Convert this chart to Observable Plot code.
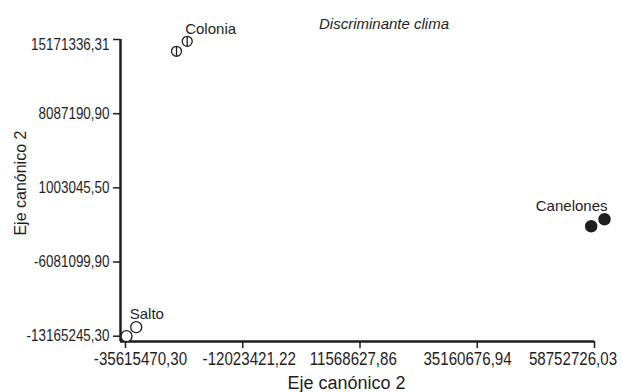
<!DOCTYPE html>
<html><head><meta charset="utf-8">
<script src="https://cdn.jsdelivr.net/npm/d3@7"></script>
<script src="https://cdn.jsdelivr.net/npm/@observablehq/plot@0.6"></script>
<style>body{margin:0;background:#fff} svg{display:block}</style>
</head><body><div id="chart"></div>
<script>
const title = "Discriminante clima";
const xTitle = "Eje canónico 2";
const yTitle = "Eje canónico 2";
const xTicks = [-35615470.30, -12023421.22, 11568627.86, 35160676.94, 58752726.03];
const xTickLabels = ["-35615470,30", "-12023421,22", "11568627,86", "35160676,94", "58752726,03"];
const yTicks = [-13165245.30, -6081099.90, 1003045.50, 8087190.90, 15171336.31];
const yTickLabels = ["-13165245,30", "-6081099,90", "1003045,50", "8087190,90", "15171336,31"];
const groups = ["Colonia", "Colonia", "Salto", "Salto", "Canelones", "Canelones"];
const xValues = [-25353683, -23200720, -35414259, -33462507, 58088725, 60764839];
const yValues = [14044743, 14999483, -13165245, -12306081, -2663207, -1994889];
const xDomain = [-36621526, 58752726.03];
const yDomain = [-13671257, 15171336.31];

// layout tweaks of the tick labels (pixels), as in the reference
const xLabelShift = [15, 6.5, -6.7, -9.7, -21.5];
const yLabelShift = [0, 0, 0, 0, 5];
const squeezeX = 0.84;

const points = groups.map((g, i) => ({group: g, x: xValues[i], y: yValues[i]}));
const labelPts = Array.from(d3.group(points, d => d.group), ([g, arr]) => d3.greatest(arr, d => d.x));
const ink = "#1e1e1e";
const sans = "'Liberation Sans', Arial, sans-serif";
const phi = {
  draw(context, size) {
    const r = Math.sqrt(size / Math.PI);
    context.moveTo(r, 0);
    context.arc(0, 0, r, 0, 2 * Math.PI);
    context.moveTo(0, -r);
    context.lineTo(0, r);
  }
};

const chart = Plot.plot({
  width: 622, height: 392,
  marginLeft: 120, marginRight: 28, marginTop: 39, marginBottom: 51,
  style: {color: ink, background: "#fff", fontFamily: sans},
  x: {domain: xDomain},
  y: {domain: yDomain},
  marks: [
    Plot.axisX(xTicks, {anchor: "bottom", tickSize: 7, tickPadding: 4, strokeWidth: 1.5,
      tickFormat: d => xTickLabels[xTicks.indexOf(d)], fontSize: 18, label: null}),
    Plot.axisY(yTicks, {anchor: "left", tickSize: 7, tickPadding: 4, strokeWidth: 1.5,
      tickFormat: d => yTickLabels[yTicks.indexOf(d)], fontSize: 16, label: null}),
    Plot.ruleX([xDomain[0]], {y1: yDomain[0], y2: yDomain[1], stroke: ink, strokeWidth: 2.5}),
    Plot.ruleY([yDomain[0]], {x1: xDomain[0], x2: xDomain[1], stroke: ink, strokeWidth: 2.5}),
    Plot.dot(points.filter(d => d.group === "Colonia"), {x: "x", y: "y", r: 5, symbol: phi, stroke: ink, strokeWidth: 1.3, fill: "none"}),
    Plot.dot(points.filter(d => d.group === "Salto"), {x: "x", y: "y", r: 5.5, stroke: ink, strokeWidth: 1.3, fill: "#fff"}),
    Plot.dot(points.filter(d => d.group === "Canelones"), {x: "x", y: "y", r: 5.5, stroke: ink, fill: ink}),
    Plot.text(labelPts.filter(d => d.group === "Colonia"), {x: "x", y: "y", text: "group", textAnchor: "start", lineAnchor: "bottom", dx: -2, dy: -7, fontSize: 15, fill: ink}),
    Plot.text(labelPts.filter(d => d.group === "Salto"), {x: "x", y: "y", text: "group", textAnchor: "start", lineAnchor: "bottom", dx: -6.5, dy: -8.5, fontSize: 15, fill: ink}),
    Plot.text(labelPts.filter(d => d.group === "Canelones"), {x: "x", y: "y", text: "group", textAnchor: "end", lineAnchor: "bottom", dx: 3, dy: -8.7, fontSize: 15, fill: ink}),
    Plot.text([title], {frameAnchor: "top", textAnchor: "middle", lineAnchor: "bottom", dx: 26.5, dy: -11, fontSize: 15, fontStyle: "italic", fill: ink}),
    Plot.text([xTitle], {frameAnchor: "bottom", textAnchor: "middle", lineAnchor: "bottom", dx: -11, dy: 47, fontSize: 18, fill: ink}),
    Plot.text([yTitle], {frameAnchor: "left", textAnchor: "middle", lineAnchor: "bottom", rotate: -90, dx: -95, dy: -7.4, fontSize: 16, fill: ink})
  ]
});

function squeeze(selector, shiftsX, shiftsY) {
  chart.querySelectorAll(selector).forEach((t, i) => {
    let tr = t.getAttribute("transform");
    if (!tr) {
      const x = parseFloat(t.getAttribute("x")) || 0;
      let y = 0;
      const ya = t.getAttribute("y");
      if (ya && !ya.endsWith("em")) { y = parseFloat(ya) || 0; t.removeAttribute("y"); }
      t.removeAttribute("x");
      tr = `translate(${x},${y})`;
    }
    const dx = shiftsX ? shiftsX[i] || 0 : 0;
    const dy = shiftsY ? shiftsY[i] || 0 : 0;
    t.setAttribute("transform", `${tr} translate(${dx},${dy}) scale(${squeezeX},1)`);
  });
}
squeeze('g[aria-label="x-axis tick label"] text', xLabelShift, null);
squeeze('g[aria-label="y-axis tick label"] text', null, yLabelShift);

document.getElementById("chart").appendChild(chart);
</script>
</body></html>
